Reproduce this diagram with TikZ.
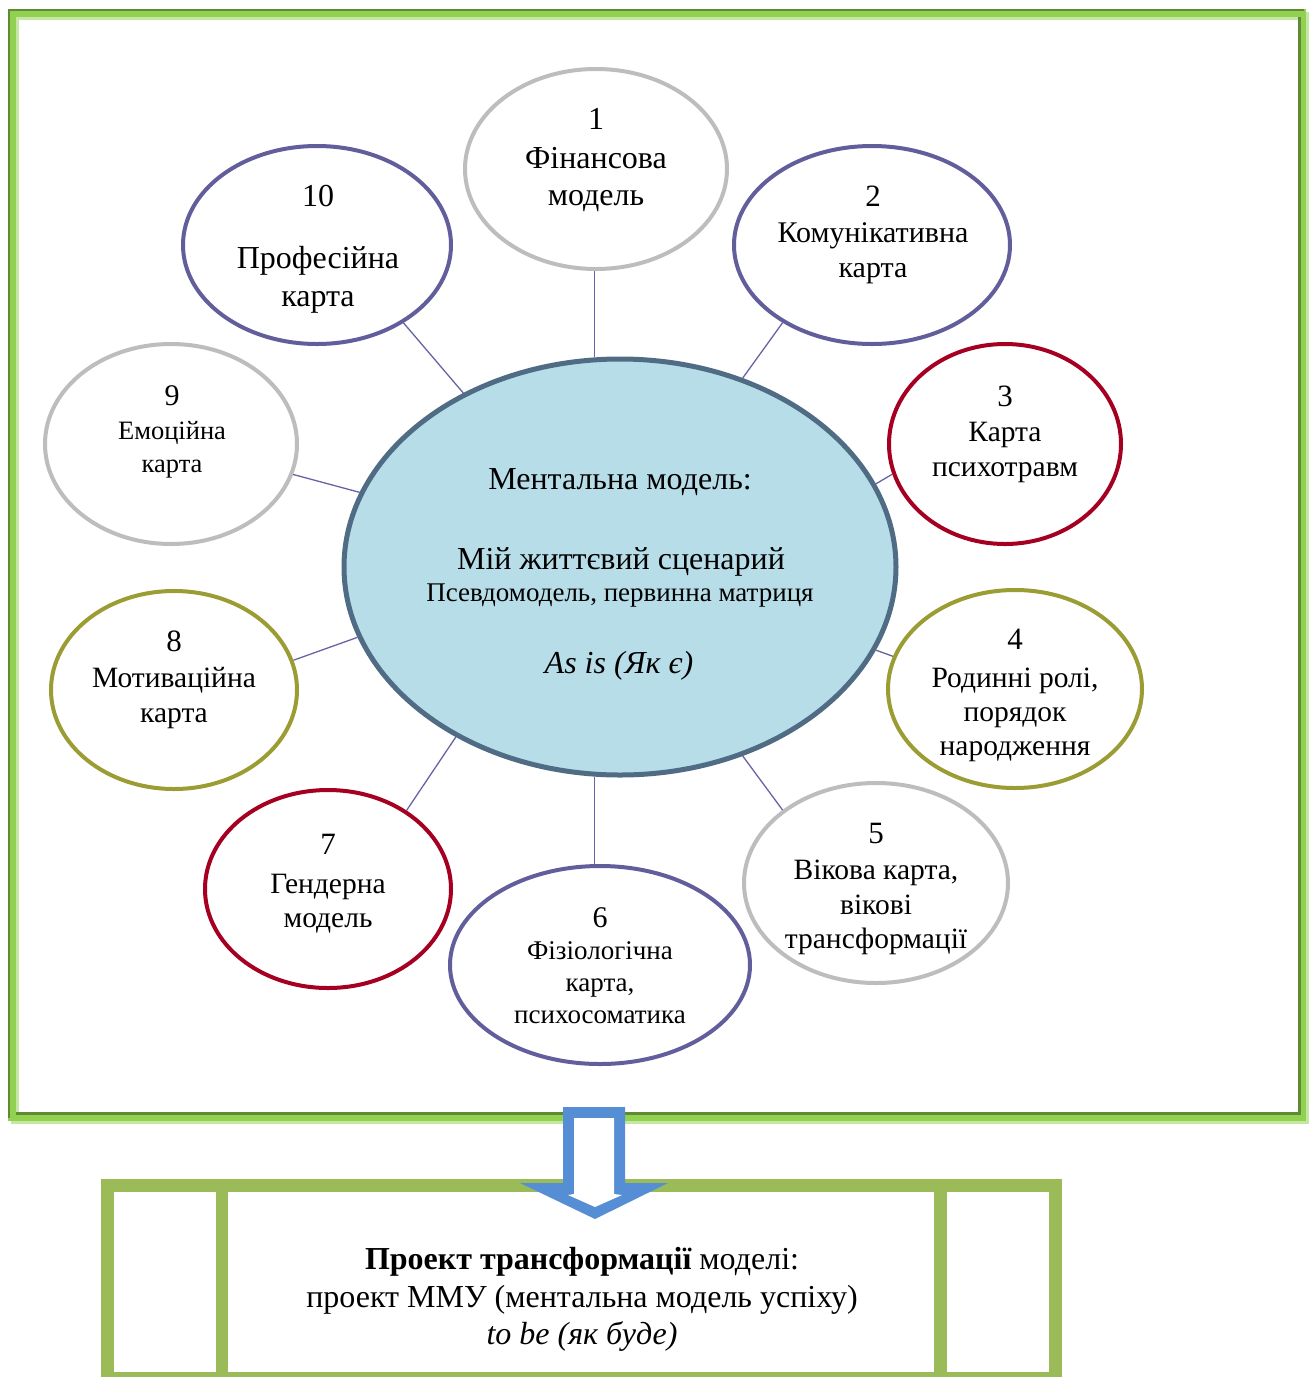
\documentclass[tikz,border=0pt]{standalone}
\usepackage{fontspec}
\setmainfont{Liberation Serif}
\usetikzlibrary{shapes.geometric}
\definecolor{cgray}{HTML}{BDBDBD}
\definecolor{cpurp}{HTML}{625E9B}
\definecolor{cred}{HTML}{A50021}
\definecolor{colive}{HTML}{9C9C34}
\definecolor{cfill}{HTML}{B7DDE8}
\definecolor{cborder}{HTML}{4F6C84}
\definecolor{cconn}{HTML}{6864A4}
\definecolor{fgreen}{HTML}{92D050}
\definecolor{fdark}{HTML}{5E8A35}
\definecolor{flight}{HTML}{C6E6A6}
\definecolor{bgreen}{HTML}{9BBB59}
\definecolor{carrow}{HTML}{558ED5}
\newcommand{\tl}[5]{\node[txt, font=\fontsize{#4}{#4}\selectfont] (#1) at (#2,#3+9) {#5};}
\begin{document}
\begin{tikzpicture}[x=1pt,y=-1pt,
  sat/.style={ellipse, draw=#1, line width=4pt, fill=white, inner sep=0pt},
  txt/.style={inner sep=0pt, anchor=center, text height=0.66em, text depth=0.17em},
  conn/.style={draw=cconn, line width=1.3pt}]
\useasboundingbox (0,0) rectangle (1314,1377);
% outer frame
\fill[flight] (11,12) rectangle (1309,1124);
\fill[fgreen] (8,9) rectangle (1306,1121);
\fill[flight] (16,17) rectangle (1298,1113);
\fill[white] (19,20) rectangle (1298,1113);
\fill[fdark] (8,9) rectangle (1304,11);
\fill[fdark] (8,9) rectangle (10,1118);
\fill[fdark] (16,1112) rectangle (1301,1114.5);
\fill[fdark] (1298,17) rectangle (1301,1114.5);
% central
\node[ellipse, draw=cborder, fill=cfill, line width=5pt, inner sep=0pt,
      minimum width=552pt, minimum height=416pt] (c) at (620,567) {};
% satellites
\node[sat=cgray,  minimum width=262pt, minimum height=200pt] (s1)  at (596,169) {};
\node[sat=cpurp,  minimum width=276pt, minimum height=198pt] (s2)  at (872,245) {};
\node[sat=cred,   minimum width=232pt, minimum height=200pt] (s3)  at (1005,444) {};
\node[sat=colive, minimum width=254pt, minimum height=198pt] (s4)  at (1015,689) {};
\node[sat=cgray,  minimum width=264pt, minimum height=200pt] (s5)  at (876,883) {};
\node[sat=cpurp,  minimum width=300pt, minimum height=198pt] (s6)  at (600,965) {};
\node[sat=cred,   minimum width=246pt, minimum height=198pt] (s7)  at (328,889) {};
\node[sat=colive, minimum width=246pt, minimum height=198pt] (s8)  at (174,690) {};
\node[sat=cgray,  minimum width=252pt, minimum height=200pt] (s9)  at (171,444) {};
\node[sat=cpurp,  minimum width=268pt, minimum height=198pt] (s10) at (317,245) {};
% connectors
\draw[conn] (c.97.1) -- (c.97.1 |- s1.south);
\draw[conn] (c.57.6) -- (s2.221);
\draw[conn] (c.18.4) -- (s3.195.7);
\draw[conn] (c.-18.2) -- (s4.165.2);
\draw[conn] (c.-57.7) -- (s5.142.6);
\draw[conn] (c.-97.1) -- (c.-97.1 |- s6.north);
\draw[conn] (c.226.9) -- (s7.45.7);
\draw[conn] (c.195.2) -- (s8.14.7);
\draw[conn] (c.164.4) -- (s9.-14.8);
\draw[conn] (c.132.8) -- (s10.-42);
% central texts
\tl{ct1}{620}{478}{32}{Ментальна модель:}
\tl{ct2}{621}{558}{32}{Мій життєвий сценарий}
\tl{ct3}{620}{590}{27}{Псевдомодель, первинна матриця}
\tl{ct4}{619}{662}{32}{\itshape As is (Як є)}
% satellite texts
\tl{t1a}{596}{118}{32}{1}
\tl{t1b}{596}{157}{32}{Фінансова}
\tl{t1c}{596}{194}{32}{модель}
\tl{t2a}{873}{195}{31}{2}
\tl{t2b}{873}{231}{30}{Комунікативна}
\tl{t2c}{873}{266}{30}{карта}
\tl{t3a}{1005}{395}{31}{3}
\tl{t3b}{1005}{430}{29.5}{Карта}
\tl{t3c}{1005}{465}{29.5}{психотравм}
\tl{t4a}{1015}{638}{31}{4}
\tl{t4b}{1015}{676}{29.5}{Родинні ролі,}
\tl{t4c}{1015}{710}{29.5}{порядок}
\tl{t4d}{1015}{744}{29.5}{народження}
\tl{t5a}{876}{832}{31}{5}
\tl{t5b}{876}{868}{29.5}{Вікова карта,}
\tl{t5c}{876}{903}{29.5}{вікові}
\tl{t5d}{876}{937}{29.5}{трансформації}
\tl{t6a}{600}{916}{30}{6}
\tl{t6b}{600}{948}{27}{Фізіологічна}
\tl{t6c}{600}{980}{27}{карта,}
\tl{t6d}{600}{1012}{27}{психосоматика}
\tl{t7a}{328}{843}{31}{7}
\tl{t7b}{328}{882}{29.5}{Гендерна}
\tl{t7c}{328}{916}{29.5}{модель}
\tl{t8a}{174}{640}{31}{8}
\tl{t8b}{174}{676}{29.5}{Мотиваційна}
\tl{t8c}{174}{711}{29.5}{карта}
\tl{t9a}{172}{394}{30}{9}
\tl{t9b}{172}{428}{26.5}{Емоційна}
\tl{t9c}{172}{461}{26.5}{карта}
\tl{t10a}{318}{195}{32}{10}
\tl{t10b}{318}{257}{32}{Професійна}
\tl{t10c}{318}{295}{32}{карта}
% bottom box
\draw[bgreen, line width=13pt] (107.5,1185.5) rectangle (1055.5,1378.5);
\draw[bgreen, line width=12pt] (222,1185) -- (222,1378);
\draw[bgreen, line width=13pt] (940.5,1185) -- (940.5,1378);
% arrow
\fill[carrow] (563,1107) -- (625,1107) -- (625,1183) -- (668,1183) -- (595,1219)
  -- (520,1183) -- (563,1183) -- cycle;
\fill[white] (574,1118) -- (614,1118) -- (614,1194) -- (622,1195) -- (595,1207)
  -- (568,1195) -- (574,1194) -- cycle;
% bottom text
\tl{b1}{582}{1258}{32}{\bfseries Проект трансформації\mdseries{} моделі:}
\tl{b2}{582}{1296}{32}{проект ММУ (ментальна модель успіху)}
\tl{b3}{582}{1333}{32}{\itshape to be (як буде)}
\end{tikzpicture}
\end{document}
